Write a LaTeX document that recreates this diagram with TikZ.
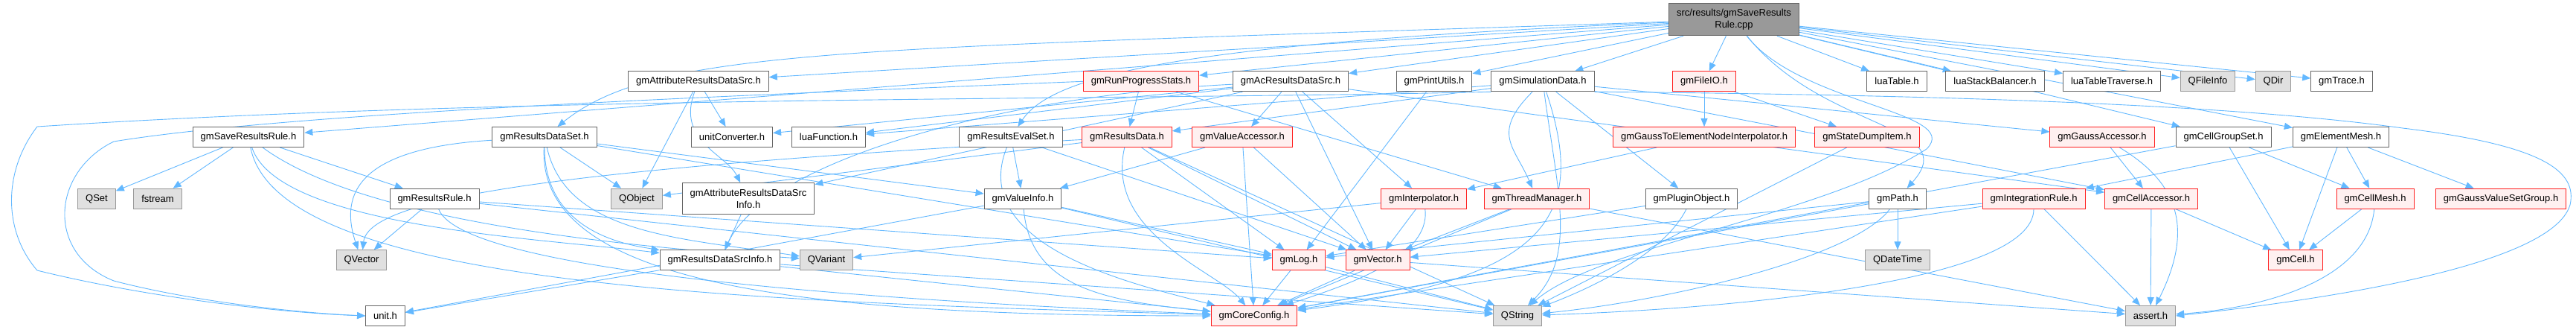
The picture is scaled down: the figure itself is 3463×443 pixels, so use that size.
\documentclass[tikz,border=0pt]{standalone}
\usepackage{fontspec}
\setmainfont{Liberation Sans}
\usetikzlibrary{positioning}
\usetikzlibrary{arrows.meta}
\usetikzlibrary{backgrounds}
\definecolor{edgeblue}{HTML}{63B8FF}
\definecolor{hdrdraw}{HTML}{666666}
\definecolor{sysfill}{HTML}{E0E0E0}
\definecolor{sysdraw}{HTML}{999999}
\definecolor{redfill}{HTML}{FFF0F0}
\definecolor{reddraw}{HTML}{FF2020}
\definecolor{rootfill}{HTML}{999999}

\begin{document}
\begin{tikzpicture}[x=1pt, y=1pt, font=\fontsize{13pt}{16pt}\selectfont,
  v/.style={rectangle, draw=hdrdraw, fill=white, line width=1pt, inner xsep=10.5pt, inner ysep=0pt, minimum height=27pt},
  vred/.style={v, draw=reddraw, fill=redfill},
  vsys/.style={v, draw=sysdraw, fill=sysfill},
  vroot/.style={v, fill=rootfill, align=center, minimum height=43pt},
  edge/.style={draw=edgeblue, line width=0.9pt, -{Triangle[length=11pt,width=9pt]}},
]
\useasboundingbox (0,0) rectangle (3463,-443);
%layer zero
\node[vroot] (top) at (2331,-26.3) {src/results/gmSaveResults\\Rule.cpp};
%layer one
\node[v] (attrsrc) [below of=top, node distance=83pt, xshift=-1392pt] {gmAttributeResultsDataSrc.h};
\node[vred] (runprog) [right of=attrsrc, node distance=595pt] {gmRunProgressStats.h};
\node[v] (acsrc) [right of=runprog, node distance=201pt] {gmAcResultsDataSrc.h};
\node[v] (printutils) [right of=acsrc, node distance=193pt] {gmPrintUtils.h};
\node[v] (simdata) [right of=printutils, node distance=146pt] {gmSimulationData.h};
\node[vred] (fileio) [right of=simdata, node distance=217pt] {gmFileIO.h};
\node[v] (luatable) [right of=fileio, node distance=259pt] {luaTable.h};
\node[v] (luastack) [right of=luatable, node distance=132pt] {luaStackBalancer.h};
\node[v] (luatrav) [right of=luastack, node distance=157pt] {luaTableTraverse.h};
\node[vsys] (qfileinfo) [right of=luatrav, node distance=129pt] {QFileInfo};
\node[vsys] (qdir) [right of=qfileinfo, node distance=88pt] {QDir};
\node[v] (trace) [right of=qdir, node distance=92pt] {gmTrace.h};
%layer two
\node[v] (saverule) [below of=attrsrc, node distance=74.7pt, xshift=-605pt] {gmSaveResultsRule.h};
\node[v] (dataset) [right of=saverule, node distance=398pt] {gmResultsDataSet.h};
\node[v] (unitconv) [right of=dataset, node distance=252pt] {unitConverter.h};
\node[v] (luafunc) [right of=unitconv, node distance=130pt] {luaFunction.h};
\node[v] (evalset) [right of=luafunc, node distance=245pt] {gmResultsEvalSet.h};
\node[vred] (resdata) [right of=evalset, node distance=156pt] {gmResultsData.h};
\node[vred] (valacc) [right of=resdata, node distance=155pt] {gmValueAccessor.h};
\node[vred] (g2enode) [below of=fileio, node distance=74.7pt] {gmGaussToElementNodeInterpolator.h};
\node[vred] (statedump) [right of=g2enode, node distance=219pt] {gmStateDumpItem.h};
\node[vred] (gaussacc) [right of=statedump, node distance=316pt] {gmGaussAccessor.h};
\node[v] (cellgrp) [right of=gaussacc, node distance=163pt] {gmCellGroupSet.h};
\node[v] (elemmesh) [right of=cellgrp, node distance=158pt] {gmElementMesh.h};
%layer three
\node[vsys] (qset) [below of=saverule, node distance=82.7pt, xshift=-204pt] {QSet};
\node[vsys] (fstream) [right of=qset, node distance=82pt] {fstream};
\node[v] (resrule) [right of=fstream, node distance=372pt] {gmResultsRule.h};
\node[vsys] (qobject) [right of=resrule, node distance=272pt] {QObject};
\node[v, align=center, minimum height=42pt] (attrinfo) [right of=qobject, node distance=150pt] {gmAttributeResultsDataSrc\\Info.h};
\node[v] (valinfo) [right of=attrinfo, node distance=369pt] {gmValueInfo.h};
\node[vred] (interp) [right of=valinfo, node distance=539pt] {gmInterpolator.h};
\node[vred] (threadmgr) [right of=interp, node distance=152pt] {gmThreadManager.h};
\node[v] (plugin) [right of=threadmgr, node distance=208pt] {gmPluginObject.h};
\node[v] (path) [right of=plugin, node distance=277pt] {gmPath.h};
\node[vred] (integ) [right of=path, node distance=183pt] {gmIntegrationRule.h};
\node[vred] (cellacc) [right of=integ, node distance=158pt] {gmCellAccessor.h};
\node[vred] (cellmesh) [right of=cellacc, node distance=301pt] {gmCellMesh.h};
\node[vred] (gvsgroup) [right of=cellmesh, node distance=169pt] {gmGaussValueSetGroup.h};
%layer four
\node[vsys] (qvector) [below of=resrule, node distance=82.6pt, xshift=-98pt] {QVector};
\node[v] (srcinfo) [right of=qvector, node distance=482pt] {gmResultsDataSrcInfo.h};
\node[vsys] (qvariant) [right of=srcinfo, node distance=143pt] {QVariant};
\node[vred] (gmlog) [right of=qvariant, node distance=635pt] {gmLog.h};
\node[vred] (gmvector) [right of=gmlog, node distance=106pt] {gmVector.h};
\node[vsys] (qdatetime) [below of=path, node distance=82.6pt] {QDateTime};
\node[vred] (gmcell) [right of=qdatetime, node distance=535pt] {gmCell.h};
%layer five
\node[v] (unit) [below of=qvector, node distance=74.7pt, xshift=32pt] {unit.h};
\node[vred] (coreconfig) [right of=unit, node distance=1168pt] {gmCoreConfig.h};
\node[vsys] (qstring) [right of=coreconfig, node distance=354pt] {QString};
\node[vsys] (assert) [right of=qstring, node distance=851pt] {assert.h};

%bend points of the long loops
\coordinate (lfar1) at (50,-170);
\coordinate (lfar2) at (50,-363);
\coordinate (lin1) at (153,-190);
\coordinate (lin2) at (153,-377);
\coordinate (rfar1) at (3230,-172);
\coordinate (rfar2) at (3455,-275);
\coordinate (qsbend) at (2590,-200);

\begin{scope}[on background layer]
\foreach \fr / \tonode in { top/saverule, top/attrsrc, top/runprog, top/acsrc,
  top/printutils, top/simdata, top/fileio, top/luatable, top/luastack, top/luatrav,
  top/qfileinfo, top/qdir, top/trace, top/cellgrp, top/elemmesh,
  saverule/qset, saverule/fstream, saverule/resrule,
  attrsrc/unitconv, attrsrc/qobject,
  dataset/qobject, dataset/valinfo, dataset/gmlog,
  runprog/resdata, runprog/threadmgr,
  acsrc/valacc, acsrc/interp, acsrc/luafunc, acsrc/unitconv,
  acsrc/attrinfo, acsrc/cellacc, acsrc/gmvector,
  printutils/gmlog,
  simdata/resdata, simdata/luafunc, simdata/plugin, simdata/gaussacc, simdata/cellacc,
  fileio/g2enode, fileio/statedump, g2enode/interp, statedump/qstring,
  gaussacc/cellacc,
  cellgrp/cellmesh, cellgrp/gmcell, cellgrp/coreconfig,
  elemmesh/cellmesh, elemmesh/gmcell, elemmesh/gvsgroup, elemmesh/integ,
  resrule/qvector, resrule/gmlog, resrule/qstring,
  attrinfo/srcinfo, srcinfo/unit, srcinfo/coreconfig, srcinfo/qstring,
  evalset/valinfo, evalset/gmvector,
  resdata/qobject, resdata/gmlog, resdata/qstring, resdata/gmvector,
  valacc/valinfo, valacc/coreconfig, valacc/gmvector,
  valinfo/unit, valinfo/qstring, valinfo/gmlog,
  interp/gmvector, interp/qvariant,
  threadmgr/coreconfig, threadmgr/gmvector, threadmgr/assert,
  plugin/gmlog,
  path/qdatetime, path/coreconfig, path/gmlog,
  integ/gmvector, integ/coreconfig, integ/assert,
  cellacc/gmcell, cellacc/assert, cellmesh/gmcell,
  gmlog/coreconfig, gmlog/qstring, gmvector/coreconfig, gmvector/assert}
\draw[edge] (\fr) -- (\tonode);

%curved ones: out handle, in handle
\foreach \fr / \tonode / \ox / \oy / \ix / \iy in {
  top/dataset/-1200/-40/150/120, top/evalset/-700/-30/60/90, top/path/120/-150/90/100,
  saverule/srcinfo/40/-120/-250/30, saverule/qvariant/150/-110/-300/20,
  saverule/coreconfig/40/-200/-700/20, attrsrc/attrinfo/-30/-80/-30/60,
  dataset/qvector/-250/-15/-30/90, dataset/srcinfo/0/-130/-120/20,
  dataset/qvariant/30/-130/-200/30, dataset/coreconfig/-10/-200/-600/0,
  acsrc/srcinfo/-400/-20/60/130, simdata/threadmgr/-70/-70/-30/70,
  simdata/coreconfig/60/-180/400/50, simdata/qstring/20/-150/80/80,
  gaussacc/assert/100/-60/60/120, resrule/coreconfig/40/-100/-500/20,
  evalset/coreconfig/-60/-150/-150/40, resdata/qvector/-700/-40/10/90,
  resdata/coreconfig/-30/-130/-50/60, valinfo/coreconfig/10/-120/-200/20,
  interp/coreconfig/10/-80/120/40, plugin/qstring/-40/-80/80/30,
  path/qstring/-60/-80/200/20, integ/qstring/0/-110/300/10,
  cellmesh/assert/-10/-110/150/10}
\draw[edge] (\fr) .. controls +(\ox,\oy) and +(\ix,\iy) .. (\tonode);

%long loops round the sides
\draw[edge] (simdata.south west) .. controls (1500,-135) and (700,-128) .. (lfar1)
  .. controls (4,-230) and (4,-310) .. (lfar2) .. controls (200,-400) and (380,-420) .. (unit.west);
\draw[edge] (runprog.west) .. controls (1000,-128) and (400,-150) .. (lin1)
  .. controls (70,-230) and (60,-340) .. (lin2) .. controls (260,-405) and (400,-420) .. (unit.west);
\draw[edge] (simdata.south east) .. controls (2600,-127) and (3000,-140) .. (rfar1)
  .. controls (3420,-195) and (3465,-230) .. (rfar2) .. controls (3430,-360) and (3100,-405) .. (assert.east);
\draw[edge] (top) .. controls (2420,-140) and (2640,-150) .. (qsbend)
  .. controls (2450,-290) and (2150,-330) .. (qstring);
\end{scope}
\end{tikzpicture}
\end{document}
